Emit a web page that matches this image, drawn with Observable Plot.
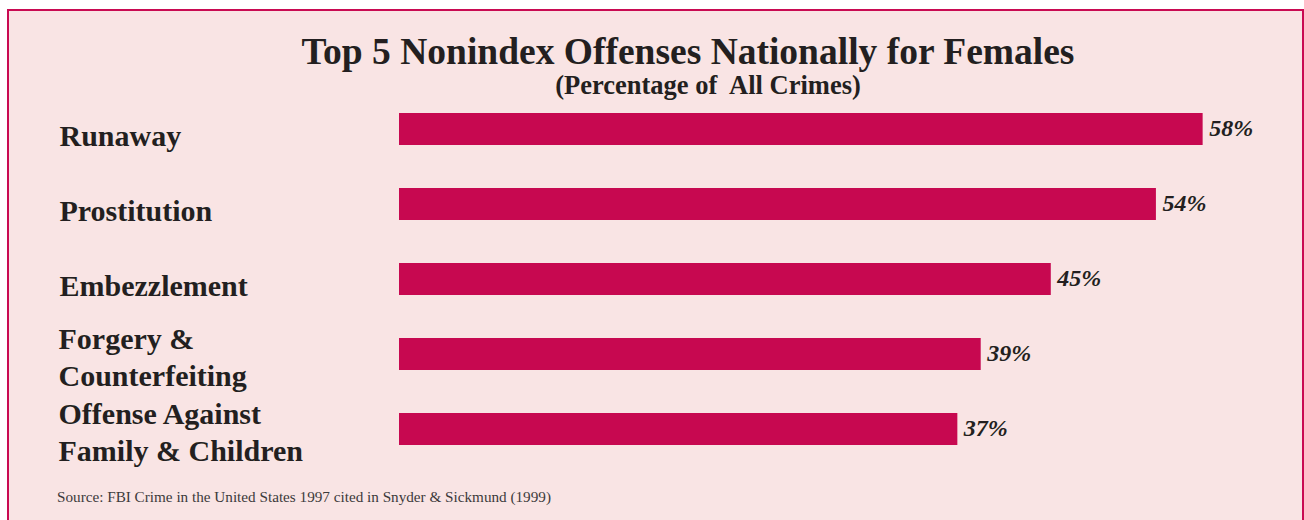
<!DOCTYPE html>
<html>
<head>
<meta charset="utf-8">
<script src="https://cdn.jsdelivr.net/npm/d3@7"></script>
<script src="https://cdn.jsdelivr.net/npm/@observablehq/plot@0.6"></script>
<style>
  html, body { margin: 0; padding: 0; background: #ffffff; }
  body { position: relative; width: 1304px; height: 520px; overflow: hidden; font-family: "Liberation Serif", "DejaVu Serif", serif; color: #231f20; }
  #panel { position: absolute; left: 7px; top: 9px; width: 1297px; height: 600px; box-sizing: border-box; border: 2px solid #c90a52; background: #f9e4e4; }
  .t { position: absolute; white-space: nowrap; }
  #title { left: 688px; top: 33px; transform: translateX(-50%); font-size: 37.5px; line-height: 37px; font-weight: bold; }
  #subtitle { left: 708px; top: 72px; transform: translateX(-50%); font-size: 26.5px; line-height: 26px; font-weight: bold; }
  #source { left: 57px; top: 489px; font-size: 15.2px; line-height: 15px; color: #3c3a3b; }
  #chart { position: absolute; left: 0; top: 100px; }
</style>
</head>
<body>
<div id="panel"></div>
<div class="t" id="title">Top 5 Nonindex Offenses Nationally for Females</div>
<div class="t" id="subtitle">(Percentage of&nbsp; All Crimes)</div>
<div id="chart"></div>
<div class="t" id="source">Source: FBI Crime in the United States 1997 cited in Snyder &amp; Sickmund (1999)</div>
<script>
const categories = ["Runaway", "Prostitution", "Embezzlement", "Forgery & Counterfeiting", "Offense Against Family & Children"];
const labels = ["Runaway", "Prostitution", "Embezzlement", "Forgery &\nCounterfeiting", "Offense Against\nFamily & Children"];
const values = [58, 54, 45, 39, 37];
const baseline = -10.8; // the original bars do not start at zero

const data = categories.map((c, i) => ({category: c, label: labels[i], value: values[i]}));
const barColor = "#c70850";
const ink = "#231f20";

const chart = Plot.plot({
  width: 1304,
  height: 370,
  marginLeft: 399,
  marginRight: 78,
  marginTop: 12,
  marginBottom: 25,
  style: {background: "transparent", overflow: "visible", fontFamily: "'Liberation Serif', serif"},
  x: {domain: [baseline, 60], axis: null},
  y: {domain: categories, axis: null, paddingInner: 0.575, paddingOuter: 0},
  marks: [
    Plot.barX(data, {x1: baseline, x2: "value", y: "category", fill: barColor}),
    Plot.text(data.filter(d => !d.label.includes("\n")), {
      y: "category", text: "label", frameAnchor: "left", textAnchor: "start", dx: -340, dy: 7,
      fontSize: 30, fontWeight: "bold", fill: ink
    }),
    Plot.text(data.filter(d => d.label.includes("\n")), {
      y: "category", text: "label", frameAnchor: "left", textAnchor: "start", dx: -341, dy: 1,
      lineHeight: 1.25, fontSize: 30, fontWeight: "bold", fill: ink
    }),
    Plot.text(data, {
      x: "value", y: "category", text: d => `${d.value}%`, textAnchor: "start", dx: 6, dy: -1,
      fontSize: 24, fontWeight: "bold", fontStyle: "italic", fill: ink
    })
  ]
});
document.getElementById("chart").appendChild(chart);
</script>
</body>
</html>
